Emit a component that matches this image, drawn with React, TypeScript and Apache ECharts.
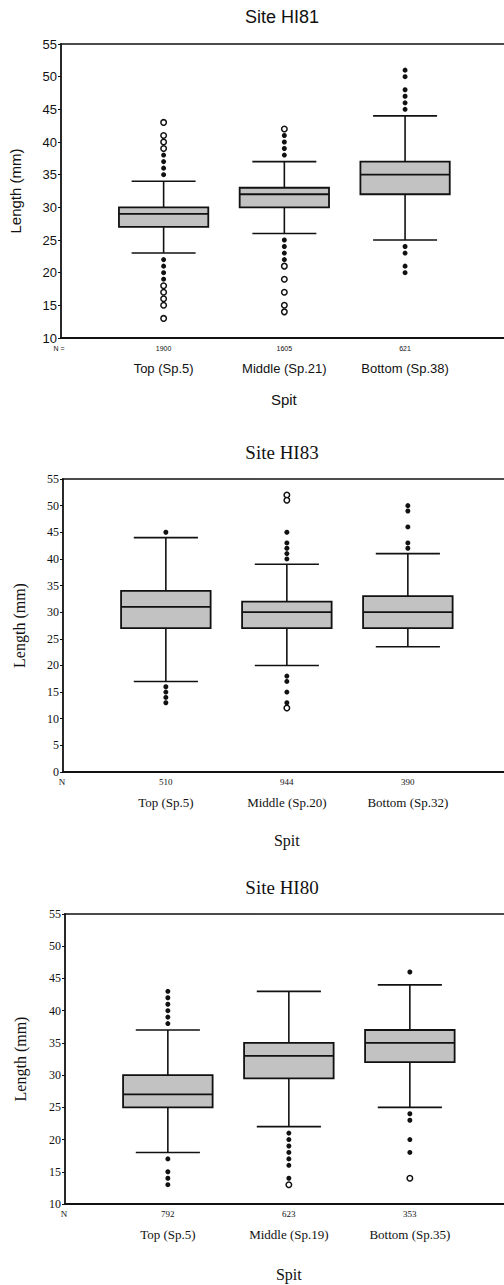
import React, { useEffect, useRef } from "react";
import * as echarts from "echarts";

// ---------- Site HI81 ----------
const HI81_CATEGORIES = ["Top (Sp.5)", "Middle (Sp.21)", "Bottom (Sp.38)"];
const HI81_N = [1900, 1605, 621];
// [lower whisker, Q1, median, Q3, upper whisker]
const HI81_BOXES = [
  [23, 27, 29, 30, 34],
  [26, 30, 32, 33, 37],
  [25, 32, 35, 37, 44],
];
const HI81_OUTLIERS_FILLED = [
  [38, 37, 36, 35, 22, 21, 20, 19],
  [41, 40, 39, 38, 25, 24, 23, 22],
  [51, 50, 48, 47, 46, 45, 24, 23, 21, 20],
];
const HI81_OUTLIERS_HOLLOW = [
  [43, 41, 40, 39, 18, 17, 16, 15, 13],
  [42, 21, 19, 17, 15, 14],
  [],
];

// ---------- Site HI83 ----------
const HI83_CATEGORIES = ["Top (Sp.5)", "Middle (Sp.20)", "Bottom (Sp.32)"];
const HI83_N = [510, 944, 390];
const HI83_BOXES = [
  [17, 27, 31, 34, 44],
  [20, 27, 30, 32, 39],
  [23.5, 27, 30, 33, 41],
];
const HI83_OUTLIERS_FILLED = [
  [45, 16, 15, 14, 13],
  [45, 43, 42, 41, 40, 18, 17, 15, 13],
  [50, 49, 46, 43, 42],
];
const HI83_OUTLIERS_HOLLOW = [[], [52, 51, 12], []];

// ---------- Site HI80 ----------
const HI80_CATEGORIES = ["Top (Sp.5)", "Middle (Sp.19)", "Bottom (Sp.35)"];
const HI80_N = [792, 623, 353];
const HI80_BOXES = [
  [18, 25, 27, 30, 37],
  [22, 29.5, 33, 35, 43],
  [25, 32, 35, 37, 44],
];
const HI80_OUTLIERS_FILLED = [
  [43, 42, 41, 40, 39, 38, 17, 15, 14, 13],
  [21, 20, 19, 18, 17, 16, 14],
  [46, 24, 23, 20, 18],
];
const HI80_OUTLIERS_HOLLOW = [[], [13], [14]];

const Y_TICKS_HI81 = { min: 10, max: 55, interval: 5 };
const Y_TICKS_HI83 = { min: 0, max: 55, interval: 5 };
const Y_TICKS_HI80 = { min: 10, max: 55, interval: 5 };

const SANS = "'Liberation Sans', Arial, sans-serif";
const SERIF = "'Liberation Serif', 'Times New Roman', serif";

type Panel = {
  title: string;
  cats: string[];
  n: number[];
  boxes: number[][];
  filled: number[][];
  hollow: number[][];
  y: { min: number; max: number; interval: number };
  font: string;
  nLabel: string;
  grid: { left: number; top: number; height: number };
  titleY: number;
  tickFont: number;
  nFont: number;
  catFont: number;
  titleFont: number;
  nameFont: number;
  yNameGap: number;
  spitY: number;
};

const PANELS: Panel[] = [
  {
    title: "Site HI81",
    cats: HI81_CATEGORIES,
    n: HI81_N,
    boxes: HI81_BOXES,
    filled: HI81_OUTLIERS_FILLED,
    hollow: HI81_OUTLIERS_HOLLOW,
    y: Y_TICKS_HI81,
    font: SANS,
    nLabel: "N =",
    grid: { left: 60, top: 44, height: 294 },
    titleY: 17,
    tickFont: 13,
    nFont: 7,
    catFont: 13,
    titleFont: 18,
    nameFont: 15,
    yNameGap: 38,
    spitY: 399,
  },
  {
    title: "Site HI83",
    cats: HI83_CATEGORIES,
    n: HI83_N,
    boxes: HI83_BOXES,
    filled: HI83_OUTLIERS_FILLED,
    hollow: HI83_OUTLIERS_HOLLOW,
    y: Y_TICKS_HI83,
    font: SERIF,
    nLabel: "N",
    grid: { left: 63, top: 479, height: 293 },
    titleY: 452,
    tickFont: 12,
    nFont: 9,
    catFont: 13,
    titleFont: 19,
    nameFont: 16,
    yNameGap: 36,
    spitY: 840,
  },
  {
    title: "Site HI80",
    cats: HI80_CATEGORIES,
    n: HI80_N,
    boxes: HI80_BOXES,
    filled: HI80_OUTLIERS_FILLED,
    hollow: HI80_OUTLIERS_HOLLOW,
    y: Y_TICKS_HI80,
    font: SERIF,
    nLabel: "N",
    grid: { left: 65, top: 914, height: 290 },
    titleY: 887,
    tickFont: 12,
    nFont: 9,
    catFont: 13,
    titleFont: 19,
    nameFont: 16,
    yNameGap: 37,
    spitY: 1274,
  },
];

const PAGE_W = 504;
const X_MIN = 0.15;
const PX_PER_UNIT = 121;
const BOX_W = 0.74;
const CAP_W = 0.53;

export default function App() {
  const ref = useRef<HTMLDivElement>(null);
  useEffect(() => {
    if (!ref.current) return;
    const chart = echarts.init(ref.current, null, { renderer: "svg" });

    const grids: any[] = [];
    const xAxes: any[] = [];
    const yAxes: any[] = [];
    const series: any[] = [];
    const graphics: any[] = [];

    PANELS.forEach((p, i) => {
      const gw = PAGE_W - p.grid.left;
      const xMax = X_MIN + gw / PX_PER_UNIT;
      grids.push({
        left: p.grid.left,
        top: p.grid.top,
        height: p.grid.height,
        width: gw,
      });
      xAxes.push({
        type: "value",
        gridIndex: i,
        min: X_MIN,
        max: xMax,
        splitLine: { show: false },
        axisTick: { show: false },
        axisLine: { show: true, lineStyle: { color: "#111", width: 1.8 } },
        axisLabel: {
          customValues: [1, 2, 3],
          margin: 2,
          color: "#111",
          fontFamily: p.font,
          formatter: (v: number) => {
            const k = Math.round(v) - 1;
            if (k < 0 || k >= p.cats.length) return "";
            return `{n|${p.n[k]}}\n{c|${p.cats[k]}}`;
          },
          rich: {
            n: { fontSize: p.nFont, lineHeight: 16, fontFamily: p.font, color: "#111" },
            c: { fontSize: p.catFont, lineHeight: 24, fontFamily: p.font, color: "#111" },
          },
        },
      });
      xAxes.push({
        type: "value",
        gridIndex: i,
        position: "top",
        min: X_MIN,
        max: xMax,
        splitLine: { show: false },
        axisTick: { show: false },
        axisLabel: { show: false },
        axisLine: { show: true, lineStyle: { color: "#111", width: 1.6 } },
      });
      yAxes.push({
        type: "value",
        gridIndex: i,
        min: p.y.min,
        max: p.y.max,
        interval: p.y.interval,
        splitLine: { show: false },
        axisLine: { show: true, lineStyle: { color: "#111", width: 1.8 } },
        axisTick: { show: true, length: 3, lineStyle: { color: "#111", width: 1 } },
        axisLabel: {
          margin: 4,
          fontSize: p.tickFont,
          fontFamily: p.font,
          color: "#111",
        },
        name: "Length (mm)",
        nameLocation: "middle",
        nameGap: p.yNameGap,
        nameTextStyle: { fontFamily: p.font, fontSize: p.nameFont, color: "#111" },
      });

      series.push({
        type: "custom",
        xAxisIndex: 2 * i,
        yAxisIndex: i,
        data: p.boxes.map((b, k) => [k + 1, ...b]),
        renderItem: (params: any, api: any) => {
          const x = api.value(0);
          const lo = api.coord([x, api.value(1)]);
          const q1 = api.coord([x, api.value(2)]);
          const md = api.coord([x, api.value(3)]);
          const q3 = api.coord([x, api.value(4)]);
          const hi = api.coord([x, api.value(5)]);
          const bw = api.size([BOX_W, 0])[0];
          const cw = api.size([CAP_W, 0])[0];
          const cx = lo[0];
          const ls = { stroke: "#111", lineWidth: 1.6 };
          return {
            type: "group",
            children: [
              { type: "line", shape: { x1: cx, y1: hi[1], x2: cx, y2: q3[1] }, style: ls },
              { type: "line", shape: { x1: cx, y1: q1[1], x2: cx, y2: lo[1] }, style: ls },
              { type: "line", shape: { x1: cx - cw / 2, y1: hi[1], x2: cx + cw / 2, y2: hi[1] }, style: ls },
              { type: "line", shape: { x1: cx - cw / 2, y1: lo[1], x2: cx + cw / 2, y2: lo[1] }, style: ls },
              {
                type: "rect",
                shape: { x: cx - bw / 2, y: q3[1], width: bw, height: q1[1] - q3[1] },
                style: { fill: "#c2c2c2", stroke: "#111", lineWidth: 1.8 },
              },
              { type: "line", shape: { x1: cx - bw / 2, y1: md[1], x2: cx + bw / 2, y2: md[1] }, style: { stroke: "#111", lineWidth: 1.8 } },
            ],
          };
        },
        z: 2,
      });

      const filledData: number[][] = [];
      p.filled.forEach((arr, k) => arr.forEach((v) => filledData.push([k + 1, v])));
      const hollowData: number[][] = [];
      p.hollow.forEach((arr, k) => arr.forEach((v) => hollowData.push([k + 1, v])));

      series.push({
        type: "scatter",
        xAxisIndex: 2 * i,
        yAxisIndex: i,
        data: filledData,
        symbol: "circle",
        symbolSize: 5,
        itemStyle: { color: "#111", opacity: 1 },
        z: 3,
      });
      series.push({
        type: "scatter",
        xAxisIndex: 2 * i,
        yAxisIndex: i,
        data: hollowData,
        symbol: "circle",
        symbolSize: 5.5,
        itemStyle: { color: "#fff", borderColor: "#111", borderWidth: 1.5, opacity: 1 },
        z: 3,
      });

      const cx2 = p.grid.left + (2 - X_MIN) * PX_PER_UNIT;
      graphics.push({
        type: "text",
        x: 282,
        y: p.titleY,
        style: {
          text: p.title,
          fontFamily: p.font,
          fontSize: p.titleFont,
          fill: "#111",
          textAlign: "center",
          textVerticalAlign: "middle",
        },
      });
      graphics.push({
        type: "text",
        x: cx2,
        y: p.spitY,
        style: {
          text: "Spit",
          fontFamily: p.font,
          fontSize: p.nameFont,
          fill: "#111",
          textAlign: "center",
          textVerticalAlign: "middle",
        },
      });
      graphics.push({
        type: "text",
        x: p.grid.left - 1,
        y: p.grid.top + p.grid.height + 10,
        style: {
          text: p.nLabel,
          fontFamily: p.font,
          fontSize: p.nFont,
          fill: "#111",
          textAlign: "center",
          textVerticalAlign: "middle",
        },
      });
    });

    chart.setOption({
      animation: false,
      backgroundColor: "#fff",
      grid: grids,
      xAxis: xAxes,
      yAxis: yAxes,
      series,
      graphic: graphics,
    });
    return () => chart.dispose();
  }, []);

  return (
    <div
      ref={ref}
      style={{ position: "absolute", left: 0, top: 0, width: PAGE_W, height: 1285 }}
    />
  );
}
